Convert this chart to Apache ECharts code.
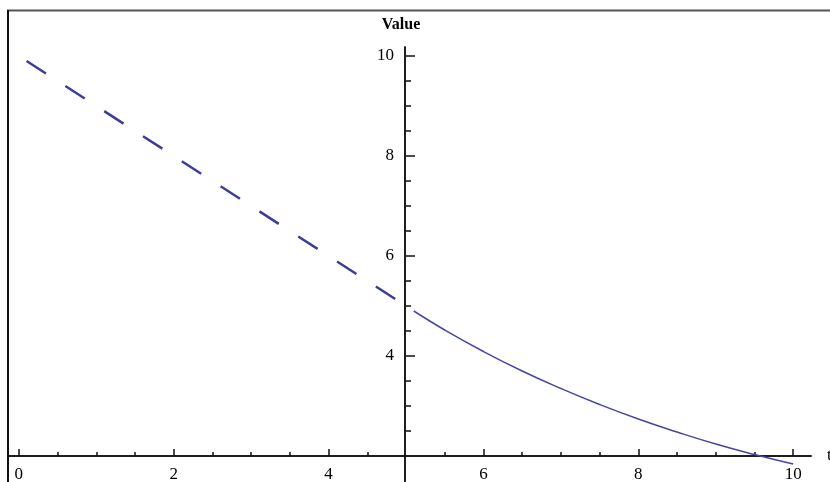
<!DOCTYPE html>
<html>
<head>
<meta charset="utf-8">
<script src="https://cdn.jsdelivr.net/npm/echarts@6/dist/echarts.min.js"></script>
<style>
  html, body { margin: 0; padding: 0; background: #fff; }
  #chart { width: 830px; height: 482px; }
</style>
</head>
<body>
<div id="chart"></div>
<script>
// dashed part (straight line) and solid part (decay)
const dashedX = [0.1, 5.0];
const dashedY = [9.9, 5.0];
const solidX = [5.1, 5.5, 6.0, 6.5, 7.0, 7.5, 8.0, 8.5, 9.0, 9.5, 10.0];
const solidY = [4.90, 4.52, 4.09, 3.70, 3.35, 3.03, 2.74, 2.48, 2.24, 2.03, 1.84];

const xMajor = [0, 2, 4, 6, 8, 10];
const xMinor = [0.5, 1, 1.5, 2.5, 3, 3.5, 4.5, 5.5, 6.5, 7, 7.5, 8.5, 9, 9.5];
const yMajor = [4, 6, 8, 10];
const yMinor = [2.5, 3, 3.5, 4.5, 5, 5.5, 6.5, 7, 7.5, 8.5, 9, 9.5];

const LINE = '#3d3d99';
const FONT = 'Liberation Serif';

const chart = echarts.init(document.getElementById('chart'));

const xBase = {
    type: 'value',
    min: -0.14,
    max: 10.23,
    position: 'bottom',
    offset: -26,
    splitLine: { show: false },
    axisLine: { show: true, lineStyle: { color: '#111', width: 1.5 } }
};
const yBase = {
    type: 'value',
    min: 1.48,
    max: 10.18,
    position: 'left',
    offset: -397,
    splitLine: { show: false },
    axisLine: { show: true, lineStyle: { color: '#111', width: 1.5 } }
};

const option = {
    animation: false,
    grid: { left: 8, right: 19, top: 47, bottom: 0, containLabel: false, outerBoundsMode: 'none' },
    xAxis: [
        Object.assign({}, xBase, {
            name: 't',
            nameLocation: 'end',
            nameGap: 16,
            nameTextStyle: { color: '#000', fontFamily: FONT, fontSize: 17 },
            axisTick: { show: true, inside: true, length: 7, customValues: xMajor,
                lineStyle: { color: '#111', width: 1.5 } },
            axisLabel: { show: true, customValues: xMajor, margin: 10,
                color: '#000', fontFamily: FONT, fontSize: 17 }
        }),
        Object.assign({}, xBase, {
            axisTick: { show: true, inside: true, length: 4, customValues: xMinor,
                lineStyle: { color: '#111', width: 1.5 } },
            axisLabel: { show: false }
        })
    ],
    yAxis: [
        Object.assign({}, yBase, {
            name: 'Value',
            nameLocation: 'end',
            nameGap: 14,
            nameTextStyle: { color: '#000', fontFamily: FONT, fontSize: 16, fontWeight: 'bold',
                align: 'center', padding: [0, 8, 0, 0] },
            axisTick: { show: true, inside: true, length: 10, customValues: yMajor,
                lineStyle: { color: '#111', width: 1.5 } },
            axisLabel: { show: true, customValues: yMajor, margin: 11,
                color: '#000', fontFamily: FONT, fontSize: 17 }
        }),
        Object.assign({}, yBase, {
            axisTick: { show: true, inside: true, length: 6, customValues: yMinor,
                lineStyle: { color: '#111', width: 1.5 } },
            axisLabel: { show: false }
        })
    ],
    series: [
        {
            type: 'line',
            xAxisIndex: 0,
            yAxisIndex: 0,
            showSymbol: false,
            data: dashedX.map((x, i) => [x, dashedY[i]]),
            lineStyle: { color: LINE, width: 2.5, type: [23, 23.2] }
        },
        {
            type: 'line',
            xAxisIndex: 0,
            yAxisIndex: 0,
            showSymbol: false,
            smooth: true,
            data: solidX.map((x, i) => [x, solidY[i]]),
            lineStyle: { color: '#4646a2', width: 1.5 }
        }
    ],
    graphic: [
        { type: 'line', shape: { x1: 7, y1: 10.5, x2: 830, y2: 10.5 },
          style: { stroke: '#555', lineWidth: 2 } },
        { type: 'line', shape: { x1: 8, y1: 10, x2: 8, y2: 482 },
          style: { stroke: '#111', lineWidth: 2 } }
    ]
};

chart.setOption(option);

window.addEventListener('resize', () => chart.resize());
</script>
</body>
</html>
